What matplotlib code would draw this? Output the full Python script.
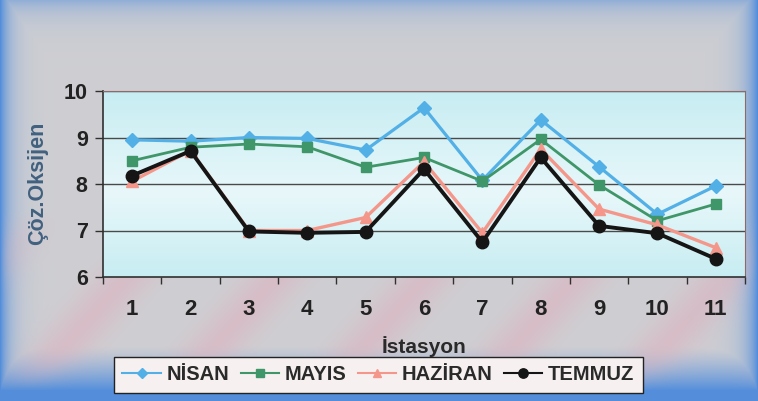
import numpy as np
import matplotlib
matplotlib.use("Agg")
import matplotlib.pyplot as plt
from matplotlib.lines import Line2D

plt.rcParams['font.family'] = ['Liberation Sans', 'DejaVu Sans']

# Station numbers and dissolved-oxygen readings per month
istasyon = [1, 2, 3, 4, 5, 6, 7, 8, 9, 10, 11]
nisan   = [8.95, 8.92, 9.00, 8.98, 8.73, 9.64, 8.08, 9.38, 8.37, 7.35, 7.96]
mayis   = [8.50, 8.79, 8.86, 8.80, 8.36, 8.57, 8.06, 8.96, 7.98, 7.21, 7.57]
haziran = [8.06, 8.72, 7.00, 7.00, 7.28, 8.48, 6.95, 8.75, 7.46, 7.12, 6.63]
temmuz  = [8.18, 8.71, 6.98, 6.95, 6.97, 8.32, 6.75, 8.57, 7.10, 6.94, 6.39]
y_ticks = [6, 7, 8, 9, 10]

W, H = 758, 401
fig = plt.figure(figsize=(W / 100, H / 100), dpi=100)

# ---- figure backdrop: grey centre, blue edges, faint pink diagonal bands
bg = fig.add_axes([0, 0, 1, 1], zorder=-10)
yy, xx = np.mgrid[0:H, 0:W].astype(float)
grey = np.array([0.81, 0.81, 0.825])
blue = np.array([0.33, 0.56, 0.86])
pink = np.array([0.86, 0.70, 0.75])
w_blue = np.clip(np.maximum.reduce([
    np.exp(-xx / 10.0),
    np.exp(-(W - 1 - xx) / 12.0),
    0.5 * np.exp(-yy / 14.0),
    np.clip((yy - 345) / 45.0, 0, 1) ** 1.3,
]), 0, 1)
phase = np.mod(xx + 0.9 * yy, 150.0)
band = np.exp(-((phase - 75.0) / 30.0) ** 2)
w_pink = 0.6 * band * np.clip((yy - 210) / 60.0, 0, 1) * (1 - w_blue)
img = grey[None, None, :] * (1 - w_blue[..., None]) + blue[None, None, :] * w_blue[..., None]
img = img * (1 - w_pink[..., None]) + pink[None, None, :] * w_pink[..., None]
bg.imshow(img, extent=[0, 1, 0, 1], aspect='auto', interpolation='bilinear')
bg.set_axis_off()

# ---- plot area
left, right, top, bottom = 103, 745, 91, 277
ax = fig.add_axes([left / W, 1 - bottom / H, (right - left) / W, (bottom - top) / H])
ax.set_xlim(0.5, 11.5)
ax.set_ylim(6, 10)

grad = np.interp(np.linspace(0, 1, 200), [0, 0.55, 1], [0, 1, 0])
c_edge = np.array([0.78, 0.93, 0.95])
c_mid = np.array([0.91, 0.97, 0.98])
area = c_edge[None, :] * (1 - grad[:, None]) + c_mid[None, :] * grad[:, None]
ax.imshow(area[:, None, :], extent=[0.5, 11.5, 6, 10], aspect='auto', zorder=0,
          interpolation='bilinear')

for val in y_ticks[1:]:
    ax.axhline(val, color='#4a4a4a', lw=1.0, zorder=1)

series = [
    ('NİSAN', nisan, '#52b0e6', 'D', 7, 2.3),
    ('MAYIS', mayis, '#3f9669', 's', 7.5, 2.0),
    ('HAZİRAN', haziran, '#f4978a', '^', 8, 2.4),
    ('TEMMUZ', temmuz, '#151515', 'o', 9, 2.8),
]
handles = []
for z, (name, vals, col, mk, ms, lw) in enumerate(series):
    ax.plot(istasyon, vals, color=col, marker=mk, markersize=ms, lw=lw,
            markeredgecolor=col, zorder=3 + z)
    handles.append(Line2D([], [], color=col, marker=mk, markersize=ms * 0.75,
                          lw=1.5, markeredgecolor=col, label=name))

for s in ['top', 'right']:
    ax.spines[s].set_color('#8a6a6a')
    ax.spines[s].set_linewidth(0.8)
ax.spines['left'].set_color('#303030')
ax.spines['bottom'].set_color('#303030')
ax.spines['left'].set_linewidth(1.2)
ax.spines['bottom'].set_linewidth(1.2)

ax.set_yticks(y_ticks)
ax.set_yticklabels([str(v) for v in y_ticks])
ax.set_xticks(istasyon)
ax.set_xticklabels([str(v) for v in istasyon])
ax.set_xticks(np.arange(0.5, 12, 1), minor=True)
ax.tick_params(axis='x', which='major', length=0, pad=16, labelsize=16,
               labelcolor='#222222')
ax.tick_params(axis='x', which='minor', length=5, width=1, color='#303030',
               direction='out')
ax.tick_params(axis='y', which='major', length=6, width=1, color='#303030',
               pad=5, labelsize=15.5, labelcolor='#222222')
for lab in ax.get_xticklabels() + ax.get_yticklabels():
    lab.set_fontweight('bold')

fig.text(38 / W, 1 - 183 / H, 'Çöz.Oksijen', rotation=90, ha='center', va='center',
         fontsize=15.5, fontweight='bold', color='#41617f')
fig.text(424 / W, 1 - 347 / H, 'İstasyon', ha='center', va='center',
         fontsize=15, fontweight='bold', color='#2a2a2a')

leg = fig.legend(handles=handles, loc='center', ncol=4,
                 bbox_to_anchor=(378.5 / W, 1 - 375 / H),
                 frameon=True, fancybox=False, framealpha=1,
                 prop={'weight': 'bold', 'size': 14.5},
                 handlelength=1.9, handletextpad=0.3, columnspacing=0.55,
                 borderpad=0.4, borderaxespad=0)
leg.get_frame().set_facecolor('#f6f0f0')
leg.get_frame().set_edgecolor('#222222')
leg.get_frame().set_linewidth(1.0)
for t in leg.get_texts():
    t.set_color('#2a2a2a')

fig.savefig('out.png', dpi=100)
